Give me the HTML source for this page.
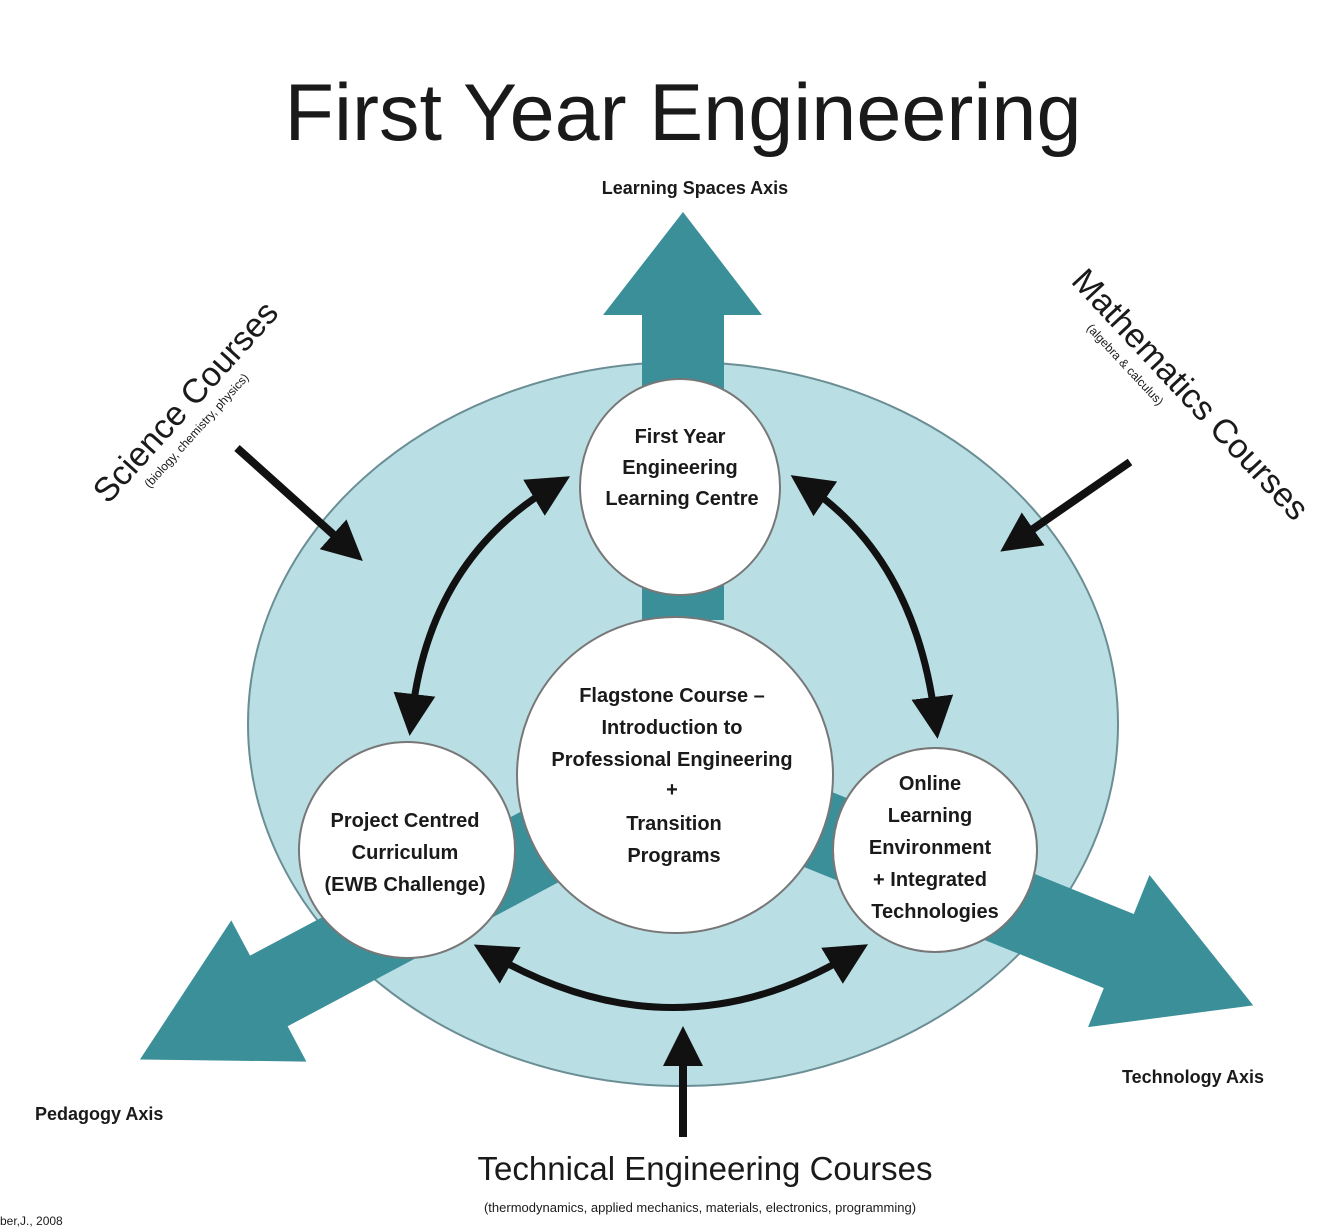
<!DOCTYPE html>
<html><head><style>
body{margin:0;background:#fff;}
svg{display:block;}
text{font-family:"Liberation Sans",sans-serif;fill:#1a1a1a;}
.b{font-weight:bold;font-size:20px;}
</style></head><body>
<svg width="1344" height="1230" viewBox="0 0 1344 1230">
<text x="683" y="140" text-anchor="middle" font-size="81">First Year Engineering</text>
<text x="695" y="194" text-anchor="middle" font-size="18" font-weight="bold">Learning Spaces Axis</text>
<ellipse cx="683" cy="724" rx="435" ry="362" fill="#b9dee4" stroke="#6a8e94" stroke-width="2"/>
<polygon points="642,620 642,315 603,315 683,212 762,315 724,315 724,620" fill="#3b8f98"/>
<g transform="translate(675,775) rotate(152)">
<polygon points="0,-40 460,-40 460,-80 606,0 460,80 460,40 0,40" fill="#3b8f98"/>
</g>
<g transform="translate(683,775) rotate(22)">
<polygon points="0,-40 470,-40 470,-82 615,0 470,82 470,40 0,40" fill="#3b8f98"/>
</g>
<ellipse cx="680" cy="487" rx="100" ry="108" fill="#fff" stroke="#777" stroke-width="2"/>
<circle cx="675" cy="775" r="158" fill="#fff" stroke="#777" stroke-width="2"/>
<circle cx="407" cy="850" r="108" fill="#fff" stroke="#777" stroke-width="2"/>
<circle cx="935" cy="850" r="102" fill="#fff" stroke="#777" stroke-width="2"/>
<g text-anchor="middle">
<text class="b" x="680" y="443">First Year</text>
<text class="b" x="680" y="474">Engineering</text>
<text class="b" x="682" y="505">Learning Centre</text>
<text class="b" x="672" y="702">Flagstone Course –</text>
<text class="b" x="672" y="734">Introduction to</text>
<text class="b" x="672" y="766">Professional Engineering</text>
<text class="b" x="672" y="796">+</text>
<text class="b" x="674" y="830">Transition</text>
<text class="b" x="674" y="862">Programs</text>
<text class="b" x="405" y="827">Project Centred</text>
<text class="b" x="405" y="859">Curriculum</text>
<text class="b" x="405" y="891">(EWB Challenge)</text>
<text class="b" x="930" y="790">Online</text>
<text class="b" x="930" y="822">Learning</text>
<text class="b" x="930" y="854">Environment</text>
<text class="b" x="930" y="886">+ Integrated</text>
<text class="b" x="935" y="918">Technologies</text>
</g>
<defs><marker id="ah" markerWidth="6" markerHeight="6" refX="3" refY="3" orient="auto-start-reverse" markerUnits="strokeWidth"><path d="M0,0 L6,3 L0,6 Z" fill="#111"/></marker>
<marker id="ah2" markerWidth="5" markerHeight="5" refX="2" refY="2.5" orient="auto" markerUnits="strokeWidth"><path d="M0,0 L5,2.5 L0,5 Z" fill="#111"/></marker></defs>
<g fill="none" stroke="#111" stroke-width="7">
<path d="M552,487 Q430,560 412,715" marker-start="url(#ah)" marker-end="url(#ah)"/>
<path d="M808,487 Q915,560 935,718" marker-start="url(#ah)" marker-end="url(#ah)"/>
<path d="M492,955 Q675,1060 850,955" marker-start="url(#ah)" marker-end="url(#ah)"/>
<path d="M237,448 L345,545" stroke-width="8" marker-end="url(#ah2)"/>
<path d="M1130,462 L1020,538" stroke-width="8" marker-end="url(#ah2)"/>
<path d="M683,1137 L683,1050" stroke-width="8" marker-end="url(#ah2)"/>
</g>
<g transform="translate(108,505) rotate(-48)"><text x="0" y="0" font-size="34">Science Courses</text><text x="40" y="20" font-size="12">(biology, chemistry, physics)</text></g>
<g transform="translate(1070,282) rotate(47)"><text x="0" y="0" font-size="34">Mathematics Courses</text><text x="45" y="20" font-size="12">(algebra &amp; calculus)</text></g>
<text x="705" y="1180" text-anchor="middle" font-size="33">Technical Engineering Courses</text>
<text x="700" y="1212" text-anchor="middle" font-size="13">(thermodynamics, applied mechanics, materials, electronics, programming)</text>
<text x="35" y="1120" font-size="18" font-weight="bold">Pedagogy Axis</text>
<text x="1122" y="1083" font-size="18" font-weight="bold">Technology Axis</text>
<text x="0" y="1225" font-size="12">ber,J., 2008</text>
</svg>
</body></html>
